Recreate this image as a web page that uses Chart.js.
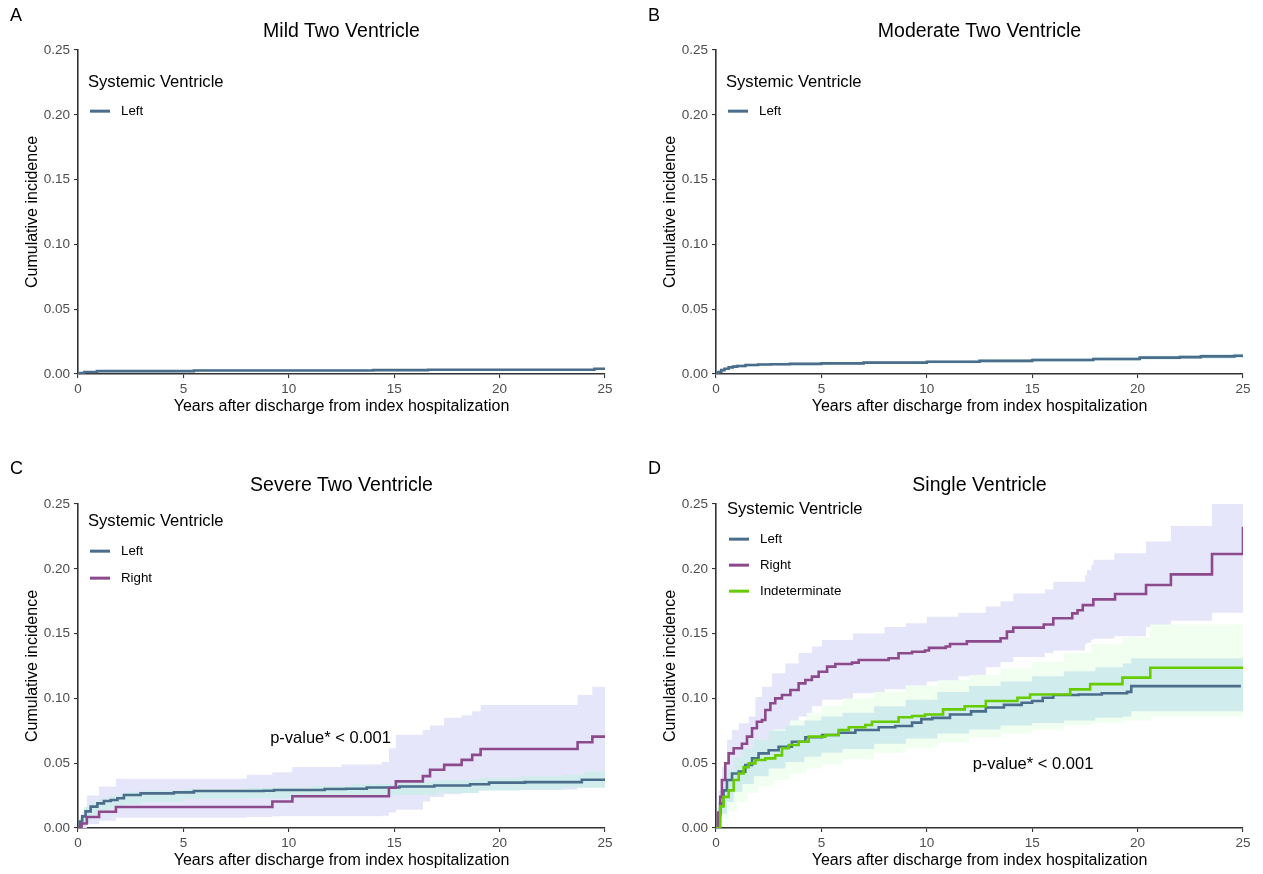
<!DOCTYPE html>
<html>
<head>
<meta charset="utf-8">
<script src="https://cdn.jsdelivr.net/npm/chart.js@4.4.1/dist/chart.umd.min.js"></script>
<style>
  body { margin: 0; background: #fff; overflow: hidden; }
  #page { position: relative; width: 1263px; height: 874px; font-family: 'Liberation Sans', Arial, sans-serif; color: #000; }
  canvas { position: absolute; }
  .t { position: absolute; white-space: nowrap; line-height: 1; transform: translateY(-50%); }
  .c { transform: translate(-50%, -50%); }
  .key { position: absolute; width: 20px; height: 2.7px; transform: translateY(-50%); }
</style>
</head>
<body>
<div id="page">
  <canvas id="chartA" width="625" height="420" style="left:0;top:0"></canvas>
  <canvas id="chartB" width="625" height="420" style="left:638px;top:0"></canvas>
  <canvas id="chartC" width="625" height="420" style="left:0;top:454px"></canvas>
  <canvas id="chartD" width="625" height="420" style="left:638px;top:454px"></canvas>
</div>
<script>
const FONT = "'Liberation Sans', Arial, sans-serif"

const groups = ['Left', 'Right', 'Indeterminate']
const lineColors = ['#4a6d8c', '#8c4a8c', '#66cc00']
const bandColors = ['#d1ecec', '#e6e6fa', '#f0fff0']
const xTicks = [0, 5, 10, 15, 20, 25]
const yTicks = [0, 0.05, 0.10, 0.15, 0.20, 0.25]

// A - mild two ventricle
const aYears = [0, 0.1, 0.3, 0.9, 5.5, 14.0, 16.6, 24.5, 25]
const aLeft = [0, 0.0008, 0.0015, 0.0022, 0.0027, 0.003, 0.0033, 0.004, 0.004]
const aLeftLo = [0, 0.0003, 0.0008, 0.0014, 0.0019, 0.0022, 0.0025, 0.0031, 0.0031]
const aLeftHi = [0, 0.0013, 0.0022, 0.003, 0.0035, 0.0038, 0.0041, 0.0049, 0.0049]

// B - moderate two ventricle
const bYears = [0, 0.1, 0.25, 0.4, 0.6, 0.8, 1.0, 1.4, 2.0, 2.6, 3.5, 5, 7, 10, 12.5, 15, 17.9, 20.1, 22, 23, 24.6, 25]
const bLeft = [0, 0.0015, 0.003, 0.004, 0.0051, 0.0057, 0.0062, 0.0069, 0.0073, 0.0075, 0.0078, 0.0082, 0.0088, 0.0095, 0.0101, 0.0108, 0.0116, 0.0126, 0.013, 0.0136, 0.0141, 0.0141]
const bLeftLo = [0, 0.0008, 0.0021, 0.003, 0.004, 0.0046, 0.0051, 0.0058, 0.0062, 0.0064, 0.0067, 0.0071, 0.0077, 0.0083, 0.0089, 0.0095, 0.0102, 0.0111, 0.0115, 0.012, 0.0125, 0.0125]
const bLeftHi = [0, 0.0022, 0.0039, 0.005, 0.0062, 0.0068, 0.0073, 0.008, 0.0084, 0.0086, 0.0089, 0.0093, 0.0099, 0.0107, 0.0113, 0.0121, 0.013, 0.0141, 0.0145, 0.0152, 0.0157, 0.0157]

// C - severe two ventricle
const cLeftYears = [0, 0.08, 0.2, 0.36, 0.6, 0.92, 1.23, 1.55, 1.87, 2.18, 2.97, 4.55, 5.5, 8.8, 9.3, 11.7, 12.7, 13.7, 15.25, 16.9, 18.6, 19.5, 21.2, 23.9, 25]
const cLeft = [0, 0.005, 0.009, 0.0128, 0.0165, 0.019, 0.0208, 0.0216, 0.0229, 0.0255, 0.0267, 0.0275, 0.0286, 0.0288, 0.0293, 0.0301, 0.0303, 0.0313, 0.032, 0.0328, 0.0338, 0.035, 0.0354, 0.0372, 0.038]
const cRightYears = [0, 0.17, 0.42, 1.0, 1.8, 9.22, 10.17, 14.75, 15.08, 16.36, 16.7, 17.37, 18.2, 18.7, 19.1, 23.7, 24.4, 25]
const cRight = [0, 0.0035, 0.0085, 0.0125, 0.0162, 0.0205, 0.0245, 0.031, 0.036, 0.040, 0.0449, 0.0487, 0.0526, 0.0564, 0.061, 0.0662, 0.0705, 0.0705]
const cLeftBandYears = [0, 0.1, 0.3, 0.6, 1.0, 1.5, 2.2, 3, 5, 8, 11, 13, 15, 17, 19, 21, 23, 24, 25]
const cLeftHi = [0, 0.008, 0.016, 0.020, 0.0225, 0.025, 0.028, 0.029, 0.030, 0.031, 0.0325, 0.034, 0.036, 0.037, 0.0385, 0.040, 0.041, 0.0436, 0.045]
const cLeftLo = [0, 0.001, 0.005, 0.010, 0.0135, 0.0155, 0.0185, 0.020, 0.0225, 0.023, 0.0235, 0.0245, 0.0255, 0.027, 0.029, 0.0295, 0.031, 0.031, 0.032]
const cRightBandYears = [0, 0.17, 0.42, 1.0, 1.8, 6.0, 8.0, 9.22, 10.17, 12.5, 14.4, 14.75, 15.08, 16.36, 16.7, 17.37, 18.2, 18.7, 19.1, 23.7, 24.4, 25]
const cRightHi = [0, 0.012, 0.025, 0.032, 0.038, 0.038, 0.041, 0.043, 0.047, 0.049, 0.051, 0.0615, 0.072, 0.0756, 0.079, 0.085, 0.087, 0.090, 0.095, 0.1026, 0.109, 0.109]
const cRightLo = [0, 0, 0.003, 0.0055, 0.008, 0.008, 0.0085, 0.009, 0.009, 0.009, 0.0095, 0.012, 0.014, 0.0205, 0.024, 0.026, 0.0275, 0.029, 0.0295, 0.032, 0.032, 0.032]

// D - single ventricle
const dLeftYears = [0, 0.1, 0.2, 0.36, 0.52, 0.76, 1.08, 1.39, 1.71, 2.02, 2.5, 2.97, 3.6, 4.24, 5.03, 5.82, 6.61, 7.72, 8.5, 9.3, 9.74, 10.26, 11.1, 12.1, 12.8, 13.66, 14.5, 15.0, 15.5, 16.0, 17.2, 18.3, 19.5, 19.7, 24.9]
const dLeft = [0, 0.01, 0.019, 0.029, 0.037, 0.042, 0.0435, 0.0486, 0.0538, 0.0576, 0.060, 0.0627, 0.0666, 0.070, 0.0718, 0.0735, 0.0756, 0.0777, 0.0787, 0.0813, 0.084, 0.085, 0.0876, 0.090, 0.093, 0.095, 0.0966, 0.098, 0.1005, 0.1026, 0.103, 0.104, 0.105, 0.1095, 0.1095]
const dRightYears = [0, 0.1, 0.2, 0.28, 0.44, 0.6, 0.84, 1.23, 1.47, 1.71, 1.94, 2.18, 2.34, 2.58, 2.81, 3.13, 3.53, 3.92, 4.24, 4.55, 4.87, 5.27, 5.66, 6.45, 6.77, 8.19, 8.66, 9.3, 9.91, 10.1, 10.9, 11.1, 11.9, 13.5, 13.8, 14.1, 15.55, 16.0, 16.9, 17.15, 17.4, 17.9, 18.93, 20.4, 21.58, 23.53, 25]
const dRight = [0, 0.012, 0.024, 0.037, 0.050, 0.0576, 0.0615, 0.065, 0.0705, 0.077, 0.082, 0.0833, 0.091, 0.0962, 0.100, 0.1026, 0.1065, 0.1116, 0.1142, 0.1168, 0.1206, 0.1245, 0.1265, 0.1276, 0.1296, 0.131, 0.1348, 0.136, 0.137, 0.139, 0.140, 0.142, 0.144, 0.1464, 0.1515, 0.1546, 0.157, 0.1618, 0.1656, 0.168, 0.172, 0.1764, 0.1806, 0.1875, 0.1957, 0.2114, 0.2325]
const dIndYears = [0, 0.2, 0.36, 0.6, 0.84, 1.08, 1.31, 1.55, 1.87, 2.34, 2.81, 3.13, 3.45, 3.92, 4.4, 5.19, 5.82, 6.3, 7.08, 7.4, 8.66, 9.3, 9.91, 10.77, 11.8, 12.8, 14.3, 14.9, 16.8, 17.75, 19.28, 20.6, 25]
const dInd = [0, 0.0167, 0.024, 0.029, 0.037, 0.042, 0.047, 0.0499, 0.0525, 0.0537, 0.056, 0.0615, 0.064, 0.0666, 0.0705, 0.0718, 0.0756, 0.0777, 0.0795, 0.082, 0.0854, 0.0864, 0.0876, 0.0915, 0.094, 0.098, 0.1005, 0.103, 0.107, 0.111, 0.116, 0.1237, 0.1237]
const dLeftBandYears = [0, 0.1, 0.28, 0.52, 0.84, 1.25, 1.8, 2.5, 3.3, 4.2, 5.0, 6.0, 7.5, 9.0, 10.5, 12.0, 13.5, 15.0, 16.5, 18.0, 19.3, 19.7, 25]
const dLeftHi = [0, 0.015, 0.032, 0.045, 0.054, 0.061, 0.068, 0.075, 0.079, 0.083, 0.086, 0.089, 0.094, 0.099, 0.105, 0.1095, 0.113, 0.117, 0.121, 0.124, 0.127, 0.131, 0.131]
const dLeftLo = [0, 0.004, 0.011, 0.02, 0.028, 0.034, 0.040, 0.046, 0.051, 0.055, 0.058, 0.061, 0.065, 0.069, 0.073, 0.076, 0.079, 0.081, 0.083, 0.085, 0.086, 0.090, 0.090]
const dRightBandYears = [0, 0.12, 0.28, 0.52, 0.76, 1.08, 1.55, 1.87, 2.18, 2.66, 3.29, 3.92, 4.55, 5.03, 6.5, 8.0, 9.0, 10.0, 11.5, 12.8, 13.5, 14.1, 15.6, 16.0, 17.5, 17.6, 17.8, 17.9, 18.9, 20.4, 21.58, 23.53, 25]
const dRightHi = [0, 0.029, 0.047, 0.068, 0.0756, 0.0808, 0.086, 0.101, 0.109, 0.1194, 0.127, 0.135, 0.140, 0.145, 0.150, 0.155, 0.158, 0.163, 0.166, 0.171, 0.175, 0.181, 0.184, 0.190, 0.195, 0.199, 0.203, 0.207, 0.212, 0.221, 0.233, 0.25, 0.25]
const dRightLo = [0, 0.004, 0.012, 0.022, 0.03, 0.036, 0.045, 0.051, 0.057, 0.066, 0.075, 0.086, 0.094, 0.099, 0.104, 0.107, 0.110, 0.113, 0.117, 0.124, 0.128, 0.132, 0.135, 0.137, 0.142, 0.143, 0.145, 0.146, 0.148, 0.155, 0.160, 0.166, 0.166]
const dIndBandYears = [0, 0.1, 0.3, 0.6, 1.0, 1.5, 2.0, 2.7, 3.5, 4.3, 5.0, 6.0, 7.5, 9.0, 10.5, 12.0, 13.5, 15.0, 16.5, 17.8, 19.3, 20.6, 25]
const dIndHi = [0, 0.012, 0.028, 0.042, 0.052, 0.061, 0.068, 0.076, 0.083, 0.089, 0.094, 0.100, 0.105, 0.110, 0.114, 0.118, 0.123, 0.128, 0.135, 0.142, 0.147, 0.157, 0.157]
const dIndLo = [0, 0.002, 0.007, 0.013, 0.02, 0.027, 0.032, 0.037, 0.042, 0.046, 0.049, 0.053, 0.058, 0.062, 0.066, 0.07, 0.073, 0.076, 0.079, 0.081, 0.083, 0.086, 0.086]

function pts(xs, ys) {
  return xs.map((x, i) => ({ x: x, y: ys[i] }))
}

// bands go in bottom first, lines: later ones on top
function makeChart(id, bands, lines) {
  const datasets = []
  let ord = 100
  bands.forEach(b => {
    datasets.push({ data: pts(b.xs, b.lo), borderWidth: 0, borderColor: 'transparent', pointRadius: 0, stepped: true, fill: false, order: ord })
    datasets.push({ data: pts(b.xs, b.hi), borderWidth: 0, borderColor: 'transparent', pointRadius: 0, stepped: true, fill: '-1', backgroundColor: b.color, order: ord })
    ord--
  })
  lines.forEach((l, i) => {
    datasets.push({ data: pts(l.xs, l.ys), borderColor: l.color, borderWidth: 2.6, pointRadius: 0, stepped: true, fill: false, order: 10 - i })
  })

  return new Chart(document.getElementById(id), {
    type: 'line',
    data: { datasets: datasets },
    options: {
      responsive: false,
      animation: false,
      devicePixelRatio: 1,
      events: [],
      layout: { padding: { left: 0, right: 20, top: 50, bottom: 0 } },
      plugins: { legend: { display: false }, tooltip: { enabled: false } },
      scales: {
        x: {
          type: 'linear', min: 0, max: 25,
          afterBuildTicks: s => { s.ticks = xTicks.map(v => ({ value: v })) },
          ticks: { color: '#4d4d4d', font: { family: FONT, size: 13.5 }, padding: 3, maxRotation: 0, autoSkip: false, callback: v => String(v) },
          grid: { drawOnChartArea: false, drawTicks: true, tickLength: 4, color: '#333', lineWidth: 1.1 },
          border: { display: true, color: '#333', width: 1.6 },
          title: { display: true, text: 'Years after discharge from index hospitalization', color: '#000', font: { family: FONT, size: 16 }, padding: { top: 0, bottom: 4 } },
          afterFit: s => { s.height = 46 }
        },
        y: {
          type: 'linear', min: 0, max: 0.25,
          afterBuildTicks: s => { s.ticks = yTicks.map(v => ({ value: v })) },
          ticks: { color: '#4d4d4d', font: { family: FONT, size: 13.5 }, padding: 4, callback: v => v.toFixed(2) },
          grid: { drawOnChartArea: false, drawTicks: true, tickLength: 4, color: '#333', lineWidth: 1.1 },
          border: { display: true, color: '#333', width: 1.6 },
          title: { display: true, text: 'Cumulative incidence', color: '#000', font: { family: FONT, size: 16 }, padding: { top: 23, bottom: 0 } },
          afterFit: s => { s.width = 78 }
        }
      }
    }
  })
}

makeChart('chartA',
  [{ xs: aYears, lo: aLeftLo, hi: aLeftHi, color: bandColors[0] }],
  [{ xs: aYears, ys: aLeft, color: lineColors[0] }])

makeChart('chartB',
  [{ xs: bYears, lo: bLeftLo, hi: bLeftHi, color: bandColors[0] }],
  [{ xs: bYears, ys: bLeft, color: lineColors[0] }])

makeChart('chartC',
  [{ xs: cRightBandYears, lo: cRightLo, hi: cRightHi, color: bandColors[1] },
   { xs: cLeftBandYears, lo: cLeftLo, hi: cLeftHi, color: bandColors[0] }],
  [{ xs: cLeftYears, ys: cLeft, color: lineColors[0] },
   { xs: cRightYears, ys: cRight, color: lineColors[1] }])

makeChart('chartD',
  [{ xs: dRightBandYears, lo: dRightLo, hi: dRightHi, color: bandColors[1] },
   { xs: dIndBandYears, lo: dIndLo, hi: dIndHi, color: bandColors[2] },
   { xs: dLeftBandYears, lo: dLeftLo, hi: dLeftHi, color: bandColors[0] }],
  [{ xs: dLeftYears, ys: dLeft, color: lineColors[0] },
   { xs: dRightYears, ys: dRight, color: lineColors[1] },
   { xs: dIndYears, ys: dInd, color: lineColors[2] }])

// text overlays
const page = document.getElementById('page')
function addText(txt, x, y, size, centered) {
  const d = document.createElement('div')
  d.className = centered ? 't c' : 't'
  d.textContent = txt
  d.style.left = x + 'px'
  d.style.top = y + 'px'
  d.style.fontSize = size + 'px'
  page.appendChild(d)
}
function addLegend(x, titleY, rows) {
  addText('Systemic Ventricle', x, titleY, 16.6, false)
  rows.forEach(r => {
    const k = document.createElement('div')
    k.className = 'key'
    k.style.left = (x + 2) + 'px'
    k.style.top = r[1] + 'px'
    k.style.background = lineColors[r[0]]
    page.appendChild(k)
    addText(groups[r[0]], x + 33, r[1], 13.3, false)
  })
}

addText('A', 10, 14.5, 18, false)
addText('B', 648, 14.5, 18, false)
addText('C', 10, 468, 18, false)
addText('D', 648, 468, 18, false)

addText('Mild Two Ventricle', 341.5, 31, 19.5, true)
addText('Moderate Two Ventricle', 979.5, 31, 19.5, true)
addText('Severe Two Ventricle', 341.5, 485, 19.5, true)
addText('Single Ventricle', 979.5, 485, 19.5, true)

addLegend(88, 82, [[0, 111]])
addLegend(726, 82, [[0, 111]])
addLegend(88, 521, [[0, 551], [1, 578]])
addLegend(727, 509, [[0, 539], [1, 565], [2, 591]])

addText('p-value* < 0.001', 330.5, 736.5, 16.5, true)
addText('p-value* < 0.001', 1033, 762.5, 16.5, true)
</script>
</body>
</html>
